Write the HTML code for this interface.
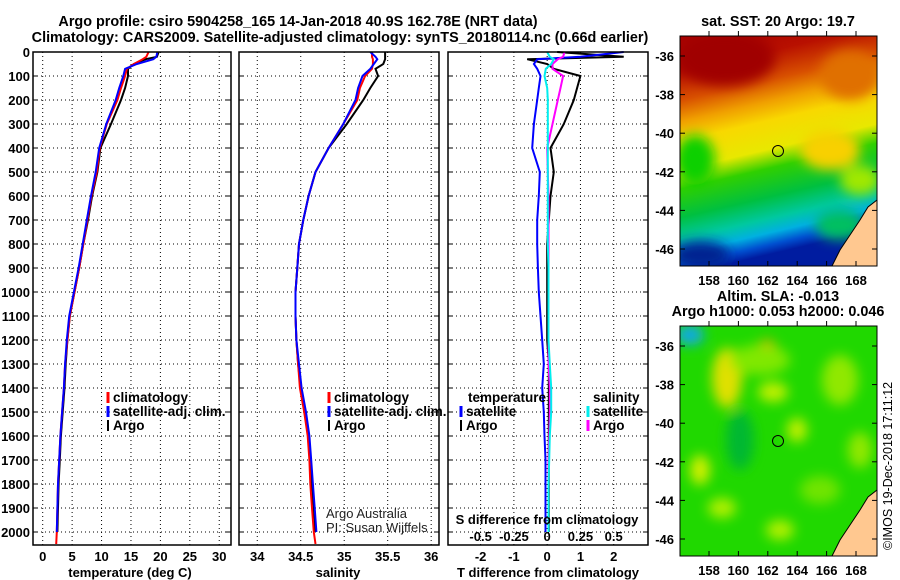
<!DOCTYPE html>
<html><head><meta charset="utf-8"><style>
body{margin:0;background:#fff;}
svg{display:block;font-family:"Liberation Sans",sans-serif;}
.t{font-weight:bold;font-size:14.4px;}
.tk{font-weight:bold;font-size:13px;}
.lg{font-weight:bold;font-size:13.5px;}
</style></head><body>
<svg id="c" width="900" height="580" viewBox="0 0 900 580">
<defs>
<linearGradient id="sst" x1="0" y1="0" x2="0.2" y2="1">
<stop offset="0" stop-color="#a80000"/><stop offset="0.15" stop-color="#b81000"/>
<stop offset="0.27" stop-color="#d85000"/><stop offset="0.36" stop-color="#f0a000"/>
<stop offset="0.44" stop-color="#f8d800"/><stop offset="0.56" stop-color="#e8e800"/>
<stop offset="0.64" stop-color="#30d000"/><stop offset="0.76" stop-color="#00c040"/>
<stop offset="0.85" stop-color="#00c8a0"/><stop offset="0.91" stop-color="#00b0e0"/>
<stop offset="0.96" stop-color="#0050d0"/><stop offset="1" stop-color="#001ca0"/>
</linearGradient>
<filter id="bl"><feGaussianBlur stdDeviation="6"/></filter>
<clipPath id="m1"><rect x="680" y="36" width="197" height="230"/></clipPath>
<clipPath id="m2"><rect x="680" y="326" width="197" height="230"/></clipPath>
</defs>
<g id="titles">
<text class="t" x="298" y="26" text-anchor="middle">Argo profile: csiro 5904258_165 14-Jan-2018 40.9S 162.78E (NRT data)</text>
<text class="t" x="340" y="42" text-anchor="middle">Climatology: CARS2009. Satellite-adjusted climatology: synTS_20180114.nc (0.66d earlier)</text>
</g>
<g id="map1">
<text class="t" x="778" y="26" text-anchor="middle">sat. SST: 20 Argo: 19.7</text>
<g clip-path="url(#m1)">
<rect x="680" y="36" width="197" height="230" fill="url(#sst)"/>
<g filter="url(#bl)">
<ellipse cx="725" cy="58" rx="50" ry="28" fill="#a00000"/>
<ellipse cx="850" cy="75" rx="30" ry="25" fill="#e07000"/>
<ellipse cx="695" cy="160" rx="20" ry="25" fill="#10d000"/>
<ellipse cx="700" cy="255" rx="30" ry="14" fill="#002090"/>
<ellipse cx="830" cy="150" rx="30" ry="20" fill="#f8d000"/>
<ellipse cx="860" cy="180" rx="20" ry="15" fill="#a0e800"/>
<ellipse cx="840" cy="225" rx="25" ry="15" fill="#00c060"/>
</g>
<path d="M877 200 L868 207 L860 220 L850 235 L840 250 L832 266 L877 266 Z" fill="#ffc890" stroke="#000" stroke-width="1"/>
</g>
<rect x="680" y="36" width="197" height="230" fill="none" stroke="#000"/>
<circle cx="778" cy="151" r="5.5" fill="none" stroke="#000"/>
</g>
<g id="map2">
<text class="t" x="778" y="301" text-anchor="middle">Altim. SLA: -0.013</text>
<text class="t" x="778" y="316" text-anchor="middle">Argo h1000: 0.053 h2000: 0.046</text>
<g clip-path="url(#m2)">
<rect x="680" y="326" width="197" height="230" fill="#20d800"/>
<g filter="url(#bl)">
<ellipse cx="690" cy="335" rx="14" ry="10" fill="#10a8e8"/>
<ellipse cx="727" cy="378" rx="15" ry="30" fill="#e0e000"/>
<ellipse cx="767" cy="352" rx="10" ry="12" fill="#f0a000"/>
<ellipse cx="773" cy="392" rx="15" ry="10" fill="#c0f000"/>
<ellipse cx="797" cy="430" rx="10" ry="12" fill="#c0f000"/>
<ellipse cx="700" cy="470" rx="10" ry="15" fill="#d0f000"/>
<ellipse cx="722" cy="508" rx="14" ry="10" fill="#b0f000"/>
<ellipse cx="840" cy="380" rx="18" ry="25" fill="#90e800"/>
<ellipse cx="780" cy="530" rx="14" ry="10" fill="#b0f000"/>
<ellipse cx="860" cy="450" rx="12" ry="18" fill="#90e800"/>
<ellipse cx="740" cy="440" rx="14" ry="30" fill="#00b830"/>
<ellipse cx="760" cy="360" rx="30" ry="15" fill="#80e800"/>
<ellipse cx="820" cy="490" rx="20" ry="14" fill="#70e400"/>
</g>
<path d="M877 490 L868 497 L860 510 L850 525 L840 540 L832 556 L877 556 Z" fill="#ffc890" stroke="#000" stroke-width="1"/>
</g>
<rect x="680" y="326" width="197" height="230" fill="none" stroke="#000"/>
<circle cx="778" cy="441" r="5.5" fill="none" stroke="#000"/>
</g>
<text x="892" y="550" transform="rotate(-90 892 550)" font-size="12.5">©IMOS 19-Dec-2018 17:11:12</text>
<g id="plots"></g>
</svg>
<script>
const depths=[0,20,30,50,70,100,150,200,300,400,500,600,700,800,900,1000,1100,1200,1300,1400,1500,1600,1700,1800,1900,2000,2050];
const tClim=[18.0,17.6,17.0,15.5,14.3,14.0,13.3,12.7,10.9,9.7,9.2,8.3,7.6,6.9,6.2,5.4,4.6,4.2,3.8,3.6,3.3,3.0,2.8,2.6,2.5,2.4,2.3];
const tSat=[19.5,19.3,18.8,16.0,14.0,13.7,13.0,12.4,10.8,9.6,9.0,8.2,7.5,6.8,6.1,5.3,4.5,4.1,3.8,3.6,3.3,3.0,2.8,2.6,2.5,2.4,null];
const tArgo=[19.7,19.4,17.5,15.5,14.5,14.5,14.0,13.3,11.6,9.8,9.3,8.4,7.7,6.9,6.2,5.4,4.6,4.2,3.9,3.7,3.4,3.1,2.9,2.7,2.6,2.5,null];
const sClim=[35.32,35.32,35.33,35.33,35.32,35.24,35.18,35.15,34.99,34.82,34.67,34.59,34.53,34.48,34.46,34.44,34.44,34.45,34.47,34.49,34.54,34.58,34.60,34.61,34.63,34.65,34.67];
const sSat=[35.30,35.36,35.38,35.34,35.30,35.21,35.16,35.13,34.99,34.82,34.67,34.59,34.53,34.48,34.46,34.44,34.44,34.45,34.48,34.51,34.56,34.60,34.62,34.64,34.66,34.68,null];
const sArgo=[35.47,35.47,35.47,35.45,35.36,35.39,35.30,35.22,35.03,34.82,34.67,34.59,34.53,34.48,34.46,34.44,34.44,34.45,34.47,34.50,34.55,34.59,34.61,34.63,34.65,34.67,null];
const dTArgo=[0.3,2.3,-0.6,0.0,0.2,1.0,0.9,0.8,0.5,0.1,0.2,0.1,0.05,0,0,0,0,0,0.05,0.05,0.05,0.05,0.05,0.05,0.05,0.05,null];
const dTSat=[2.3,1.0,-0.3,-0.4,-0.3,-0.2,-0.25,-0.3,-0.4,-0.45,-0.22,-0.25,-0.3,-0.3,-0.28,-0.25,-0.2,-0.15,-0.1,-0.15,-0.1,-0.08,-0.05,-0.05,-0.05,-0.05,null];
const dSArgo=[0.13,0.12,0.08,0.04,0.04,0.12,0.10,0.08,0.04,0.0,0.005,0.01,0.01,0.01,0.01,0.01,0.01,0.01,0.01,0.02,0.02,0.015,0.01,0.01,0.01,0.01,null];
const dSSat=[0,0.02,0.05,0.03,-0.01,-0.02,0,0.005,0.005,0.005,0.005,0.005,0.005,0.005,0.01,0.01,0.01,0.01,0.02,0.03,0.03,0.02,0.015,0.01,0.01,0.01,null];
const depthTicks=[0,100,200,300,400,500,600,700,800,900,1000,1100,1200,1300,1400,1500,1600,1700,1800,1900,2000];
const tTicks=[0,5,10,15,20,25,30];
const sTicks=[34,34.5,35,35.5,36];
const dTTicks=[-2,-1,0,1,2];
const dSTicks=[-0.5,-0.25,0,0.25,0.5];
const latTicks=[-36,-38,-40,-42,-44,-46];
const lonTicks=[158,160,162,164,166,168];

const NS='http://www.w3.org/2000/svg';
const root=document.getElementById('plots');
function mk(tag,attrs,parent){const e=document.createElementNS(NS,tag);for(const k in attrs)e.setAttribute(k,attrs[k]);(parent||root).appendChild(e);return e;}
const Y=d=>52+d*0.24;
const TOP=52,BOT=545;
const panels=[
 {x0:33,x1:231,v0:-1.65,v1:32.0,name:'temperature-panel'},
 {x0:239,x1:439,v0:33.79,v1:36.09,name:'salinity-panel'},
 {x0:448,x1:648,v0:-2.98,v1:3.03,name:'difference-panel'}];
function xs(p,v){return p.x0+(v-p.v0)/(p.v1-p.v0)*(p.x1-p.x0);}
function grid(p,ticks){
 ticks.forEach(t=>{const x=xs(p,t);
  const g=mk('line',{x1:x,x2:x,y1:TOP,y2:BOT,stroke:'#000','stroke-dasharray':'1 3'});
  });
 depthTicks.forEach(d=>{const y=Y(d);
  const g=mk('line',{x1:p.x0,x2:p.x1,y1:y,y2:y,stroke:'#000','stroke-dasharray':'1 3'});
  
  mk('line',{x1:p.x0,x2:p.x0+5,y1:y,y2:y,stroke:'#000'});mk('line',{x1:p.x1-5,x2:p.x1,y1:y,y2:y,stroke:'#000'});});
}
function series(p,vals,color,name,sc){
 const pts=[];vals.forEach((v,i)=>{if(v!==null)pts.push(xs(p,v*(sc||1)).toFixed(1)+','+Y(depths[i]).toFixed(1));});
 const l=mk('polyline',{points:pts.join(' '),fill:'none',stroke:color,'stroke-width':2});
 
}
function frame(p){const r=mk('rect',{x:p.x0,y:TOP,width:p.x1-p.x0,height:BOT-TOP,fill:'none',stroke:'#000','stroke-width':1.5});
 }
function txt(x,y,s,attrs,name){const t=mk('text',Object.assign({x:x,y:y},attrs||{}));t.textContent=s;
 return t;}

depthTicks.forEach(d=>{txt(30,Y(d)+5,String(d),{'text-anchor':'end',class:'tk'},'depth-tick-label');});
let p=panels[0];grid(p,tTicks);
series(p,tArgo,'#000','argo-temperature-line');series(p,tClim,'#f00','climatology-temperature-line');series(p,tSat,'#00f','satellite-temperature-line');
frame(p);
tTicks.forEach(t=>txt(xs(p,t),561,String(t),{'text-anchor':'middle',class:'tk'},'temperature-tick-label'));
txt(130,577,'temperature (deg C)',{'text-anchor':'middle',class:'tk'},'temperature-axis-title');
p=panels[1];grid(p,sTicks);
series(p,sArgo,'#000','argo-salinity-line');series(p,sClim,'#f00','climatology-salinity-line');series(p,sSat,'#00f','satellite-salinity-line');
frame(p);
sTicks.forEach(t=>txt(xs(p,t),561,String(t),{'text-anchor':'middle',class:'tk'},'salinity-tick-label'));
txt(338,577,'salinity',{'text-anchor':'middle',class:'tk'},'salinity-axis-title');
txt(326,518,'Argo Australia',{'font-size':'13',fill:'#222'},'credit-line-1');
txt(326,532,'PI: Susan Wijffels',{'font-size':'13',fill:'#222'},'credit-line-2');
p=panels[2];grid(p,dTTicks);
series(p,dTArgo,'#000','argo-t-diff-line');series(p,dTSat,'#00f','satellite-t-diff-line');
series(p,dSArgo,'#f0f','argo-s-diff-line',4);series(p,dSSat,'#0ee','satellite-s-diff-line',4);
frame(p);
dTTicks.forEach(t=>txt(xs(p,t),561,String(t),{'text-anchor':'middle',class:'tk'},'t-diff-tick-label'));
txt(548,577,'T difference from climatology',{'text-anchor':'middle',class:'tk'},'t-diff-axis-title');
dSTicks.forEach(t=>txt(xs(p,t*4),541,String(t),{'text-anchor':'middle',class:'tk'},'s-diff-tick-label'));
txt(547,524,'S difference from climatology',{'text-anchor':'middle',class:'tk'},'s-diff-axis-title');
function legend(x,y,items,name){items.forEach((it,i)=>{
 const yy=y+i*14;
 const m=mk('line',{x1:x,x2:x,y1:yy-10,y2:yy+1,stroke:it[1],'stroke-width':it[1]=='#000'?2:3});
 txt(x+5,yy,it[0],{class:'lg'},name+'-entry');});}
legend(108,402,[['climatology','#f00'],['satellite-adj. clim.','#00f'],['Argo','#000']],'profile-legend');
legend(329,402,[['climatology','#f00'],['satellite-adj. clim.','#00f'],['Argo','#000']],'salinity-legend');
txt(468,402,'temperature',{class:'lg'},'t-legend-heading');
legend(461,416,[['satellite','#00f'],['Argo','#000']],'t-diff-legend');
txt(593,402,'salinity',{class:'lg'},'s-legend-heading');
legend(588,416,[['satellite','#0ee'],['Argo','#f0f']],'s-diff-legend');
function mapAxes(y0){
 const lat=v=>y0+20+(-36-v)*19.3, lon=v=>709+(v-158)*14.7;
 latTicks.forEach(v=>{const y=lat(v);
  mk('line',{x1:680,x2:685,y1:y,y2:y,stroke:'#000'});mk('line',{x1:872,x2:877,y1:y,y2:y,stroke:'#000'});
  txt(674,y+5,String(v),{'text-anchor':'end',class:'tk'},'latitude-tick-label');});
 lonTicks.forEach(v=>{const x=lon(v);
  mk('line',{x1:x,x2:x,y1:y0+230,y2:y0+225,stroke:'#000'});mk('line',{x1:x,x2:x,y1:y0,y2:y0-5,stroke:'#000'});
  txt(x,y0+249,String(v),{'text-anchor':'middle',class:'tk'},'longitude-tick-label');});
}
mapAxes(36);mapAxes(326);
</script>
</body></html>
